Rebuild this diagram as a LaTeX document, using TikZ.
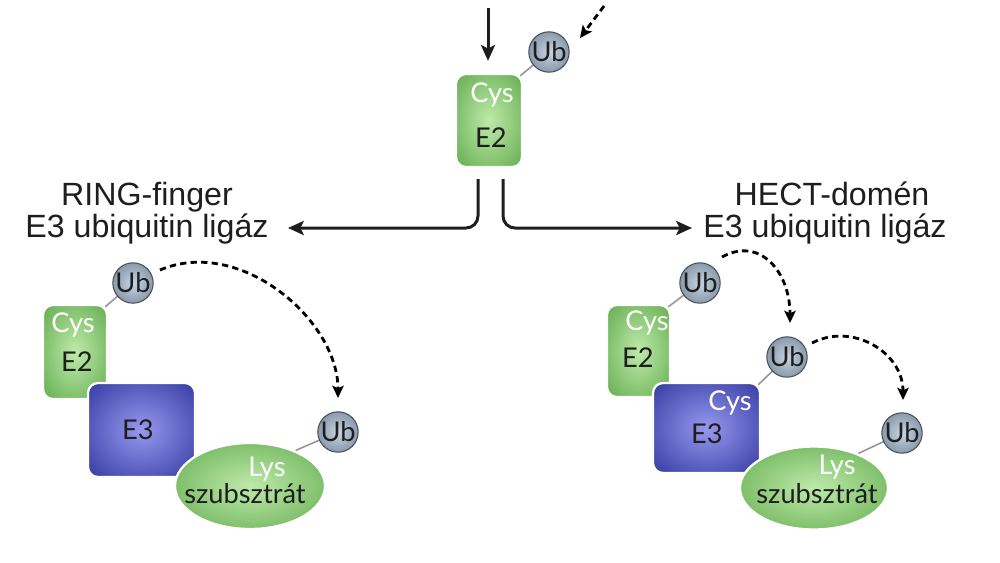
\documentclass[tikz,border=0pt]{standalone}
\usepackage{fontspec}
\setmainfont{Liberation Sans}
\newfontfamily\boxfont{Lato}
\usetikzlibrary{arrows.meta,shapes.geometric,calc,backgrounds}
\definecolor{gOut}{RGB}{84,162,64}
\definecolor{gIn}{RGB}{190,234,170}
\definecolor{bOut}{RGB}{36,42,148}
\definecolor{bIn}{RGB}{150,152,238}
\definecolor{uOut}{RGB}{100,120,140}
\definecolor{uIn}{RGB}{200,212,226}
\definecolor{uBorder}{RGB}{70,80,90}
\definecolor{ink}{RGB}{30,30,30}
\definecolor{wire}{RGB}{150,150,150}
\pgfdeclareradialshading{gshade}{\pgfpointorigin}{color(0bp)=(gIn); color(42bp)=(gOut); color(50bp)=(gOut)}
\pgfdeclareradialshading{bshade}{\pgfpointorigin}{color(0bp)=(bIn); color(42bp)=(bOut); color(50bp)=(bOut)}
\pgfdeclareradialshading{ushade}{\pgfpointorigin}{color(0bp)=(uIn); color(40bp)=(uOut); color(50bp)=(uOut)}
\begin{document}
\begin{tikzpicture}[x=0.02cm,y=-0.02cm,
  gbox/.style={rectangle, rounded corners=0.2cm, draw=white, line width=1.3pt, shade, shading=gshade, inner sep=0pt},
  bbox/.style={rectangle, rounded corners=0.2cm, draw=white, line width=1.3pt, shade, shading=bshade, inner sep=0pt, minimum width=2.14cm},
  gell/.style={ellipse, draw=white, line width=1.3pt, shade, shading=gshade, inner sep=0pt},
  ubnode/.style={circle, minimum size=0.8cm, inner sep=0pt, shade, shading=ushade, draw=uBorder, line width=0.6pt, font=\boxfont\fontsize{15.5}{15.5}\selectfont, text=ink},
  wlabel/.style={font=\boxfont\fontsize{15.5}{16}\selectfont, text=white, inner sep=0pt},
  dlabel/.style={font=\boxfont\fontsize{15.5}{16}\selectfont, text=ink, inner sep=0pt},
  headtext/.style={font=\fontsize{18.3}{21}\selectfont, text=ink, inner sep=0pt, anchor=base},
  flow/.style={draw=ink, line width=1.7pt, -{Stealth[length=9pt,width=8pt,inset=2pt]}},
  transfer/.style={draw=black, line width=1.6pt, dash pattern=on 3.6pt off 2.4pt, -{Stealth[length=7pt,width=6.5pt,inset=1.5pt]}},
  wirestyle/.style={draw=wire, line width=0.9pt}
]
\useasboundingbox (0,0) rectangle (1000,562);

% ---------------- top ----------------
\node[gbox, minimum width=1.32cm, minimum height=1.86cm] (e2t) at (489,120.5) {};
\node[wlabel] (e2tcys) at (492,95) {Cys};
\node[dlabel] (e2tlab) at (491,138) {E2};
\node[ubnode] (ubt) at (549,52) {Ub};
\coordinate (topin) at (488,8);
\coordinate (dashin) at (604,6);

% ---------------- left (RING) ----------------
\node[gbox, minimum width=1.28cm, minimum height=1.88cm] (e2l) at (75,352) {};
\node[wlabel] (e2lcys) at (73,325) {Cys};
\node[dlabel] (e2llab) at (77,362) {E2};
\node[bbox, minimum height=1.88cm] (e3l) at (141.5,430) {};
\node[dlabel] (e3llab) at (138,430) {E3};
\node[gell, minimum width=3.0cm, minimum height=1.72cm] (subl) at (250,486) {};
\node[wlabel] (subllys) at (267,469) {Lys};
\node[dlabel] (sublsub) at (245,494) {szubsztrát};
\node[ubnode] (ub1l) at (133,283) {Ub};
\node[ubnode] (ub2l) at (338,432) {Ub};

% ---------------- right (HECT) ----------------
\node[gbox, minimum width=1.26cm, minimum height=1.84cm] (e2r) at (638.5,351) {};
\node[wlabel] (e2rcys) at (647,323) {Cys};
\node[dlabel] (e2rlab) at (638,358) {E2};
\node[bbox, minimum height=1.8cm] (e3r) at (706.5,428) {};
\node[wlabel] (e3rcys) at (730,403) {Cys};
\node[dlabel] (e3rlab) at (707,434) {E3};
\node[gell, minimum width=2.96cm, minimum height=1.66cm] (subr) at (814,488) {};
\node[wlabel] (subrlys) at (837,467) {Lys};
\node[dlabel] (subrsub) at (817,494) {szubsztrát};
\node[ubnode] (ub1r) at (700,283) {Ub};
\node[ubnode] (ub2r) at (787,357) {Ub};
\node[ubnode] (ub3r) at (902,433) {Ub};

% ---------------- headings ----------------
\node[headtext] (ringa) at (147,205) {RING-finger};
\node[headtext] (ringb) at (147,237) {E3 ubiquitin ligáz};
\node[headtext] (hecta) at (832,205) {HECT-domén};
\node[headtext] (hectb) at (825,237) {E3 ubiquitin ligáz};

% ---------------- wires behind ----------------
\begin{scope}[on background layer]
  \draw[wirestyle] ($(e2t.north east)+(-3,3)$) -- (ubt.center);
  \draw[wirestyle] ($(e2l.north east)+(-3,3)$) -- (ub1l.center);
  \draw[wirestyle] (subl.38) -- (ub2l.center);
  \draw[wirestyle] ($(e2r.north east)+(-3,3)$) -- (ub1r.center);
  \draw[wirestyle] ($(e3r.north east)+(-3,3)$) -- (ub2r.center);
  \draw[wirestyle] (subr.38) -- (ub3r.center);
\end{scope}

% ---------------- flow arrows ----------------
\draw[flow] (topin) -- ($(e2t.north)+(-1,-12)$);
\draw[transfer] (dashin) -- ($(ubt)+(31,-14)$);
\coordinate (splitl) at ($(e2t.south)+(-11,11)$);
\coordinate (splitr) at ($(e2t.south)+(14,11)$);
\coordinate (endl) at (288,228);
\coordinate (endr) at (692,228);
\draw[flow, rounded corners=0.24cm] (splitl) |- (endl);
\draw[flow, rounded corners=0.24cm] (splitr) |- (endr);

% ---------------- ubiquitin transfers ----------------
\draw[transfer] ($(ub1l)+(27,-13)$) .. controls (240,236) and (338,320) .. ($(ub2l)+(0,-34)$);
\draw[transfer] ($(ub1r)+(22,-26)$) .. controls (760,236) and (790,272) .. ($(ub2r)+(3,-34)$);
\draw[transfer] ($(ub2r)+(25,-14)$) .. controls (852,322) and (903,352) .. ($(ub3r)+(1,-33)$);
\end{tikzpicture}
\end{document}
